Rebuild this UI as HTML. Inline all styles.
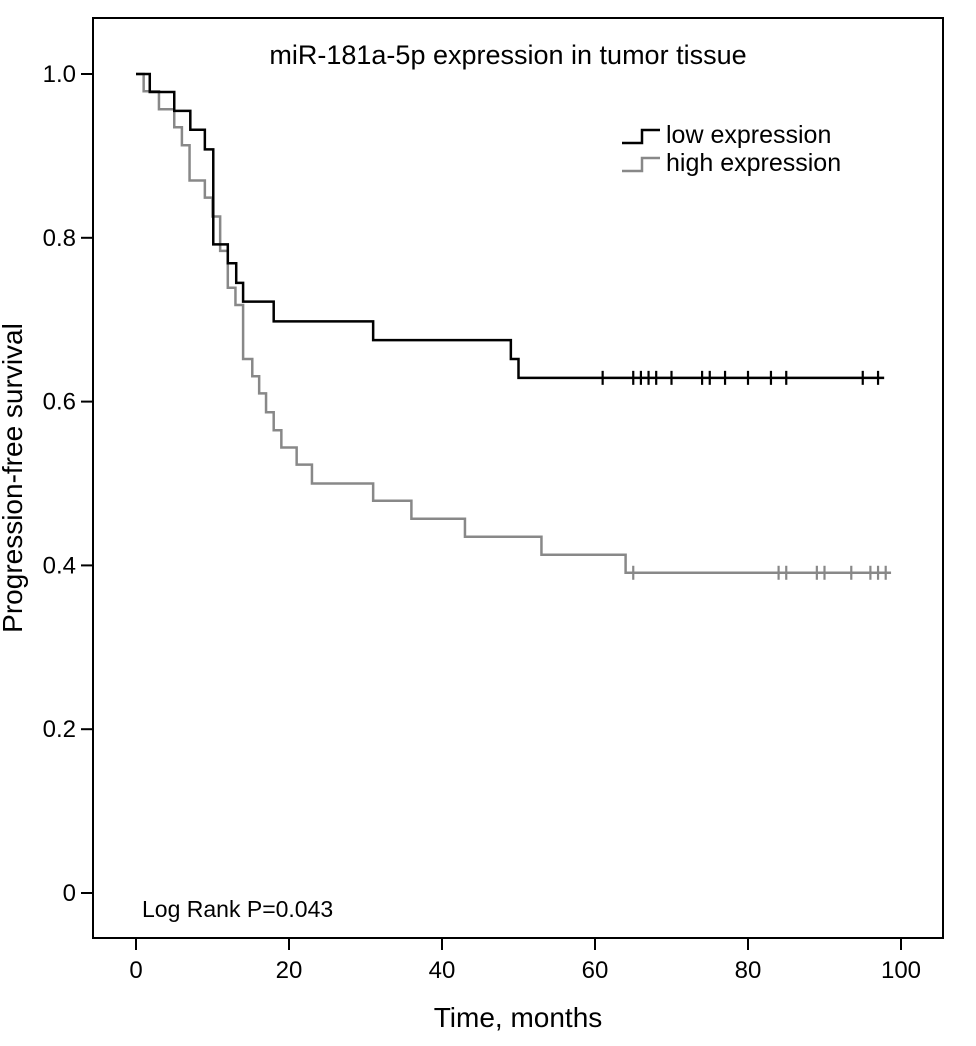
<!DOCTYPE html>
<html><head><meta charset="utf-8"><style>
body{margin:0;background:#fff;}
svg{display:block;font-family:"Liberation Sans",Arial,sans-serif;}
</style></head><body>
<svg id="chart" width="976" height="1046" viewBox="0 0 976 1046">
<rect x="93" y="18" width="850" height="920" fill="none" stroke="#000" stroke-width="2"/>
<text x="508" y="64" font-size="27" text-anchor="middle">miR-181a-5p expression in tumor tissue</text>
<text x="518" y="1027" font-size="28" text-anchor="middle">Time, months</text>
<text transform="translate(22,478) rotate(-90)" font-size="28" text-anchor="middle">Progression-free survival</text>
<text x="142" y="917" font-size="23">Log Rank P=0.043</text>
<g>
<path d="M622,143 H642 V130 H660" fill="none" stroke="#000" stroke-width="2.5"/>
<text x="666" y="143" font-size="25">low expression</text>
<path d="M622,171 H642 V158 H660" fill="none" stroke="#888" stroke-width="2.5"/>
<text x="666" y="171" font-size="25">high expression</text>
</g>
<g id="axes"></g>
<g id="series"></g>
</svg>
<script>
const xTicks=[0,20,40,60,80,100];
const yTicks=[0,0.2,0.4,0.6,0.8,1.0];
const yTickLabels=["0","0.2","0.4","0.6","0.8","1.0"];
const lowTimes=[1.8,5,7.1,9,10.1,12,13.1,14,18,31,49,50];
const lowSurv=[0.978,0.955,0.932,0.908,0.792,0.769,0.745,0.722,0.698,0.675,0.652,0.629];
const lowCensor=[61,65,66,67,68,70,74,75,77,80,83,85,95,97];
const lowEnd=97.8;
const highTimes=[1,3,5,6,7,9,10,11,12,13,14,15.2,16.1,17,18,19,21,23,31,36,43,53,64];
const highSurv=[0.979,0.957,0.935,0.913,0.870,0.849,0.826,0.784,0.739,0.718,0.652,0.631,0.610,0.587,0.565,0.544,0.523,0.500,0.479,0.457,0.435,0.413,0.391];
const highCensor=[65,84,85,89,90,93.5,96,97,98];
const highEnd=98.7;
const NS="http://www.w3.org/2000/svg";
const X=v=>136+v*7.65, Y=v=>893-v*819;
const axes=document.getElementById('axes'), ser=document.getElementById('series');
function mk(t,a,p){const e=document.createElementNS(NS,t);for(const k in a)e.setAttribute(k,a[k]);p.appendChild(e);return e;}
xTicks.forEach(v=>{
 const l=mk('line',{x1:X(v),x2:X(v),y1:938,y2:950,stroke:'#000','stroke-width':2},axes);
 
 
 const t=mk('text',{x:X(v),y:978,'font-size':24,'text-anchor':'middle'},axes);t.textContent=v;
 
 
});
yTicks.forEach((v,i)=>{
 const l=mk('line',{x1:81,x2:93,y1:Y(v),y2:Y(v),stroke:'#000','stroke-width':2},axes);
 
 
 const t=mk('text',{x:76,y:Y(v)+8,'font-size':24,'text-anchor':'end'},axes);t.textContent=yTickLabels[i];
 
 
});
function curve(times,surv,end,censor,color,name){
 let d='M'+X(0)+','+Y(1);let cur=1;
 times.forEach((t,i)=>{d+=' H'+X(t)+' V'+Y(surv[i]);cur=surv[i];});
 d+=' H'+X(end);
 const p=mk('path',{d:d,fill:'none',stroke:color,'stroke-width':2.5},ser);
 
 
 censor.forEach(c=>{
  const l=mk('line',{x1:X(c),x2:X(c),y1:Y(cur)-7,y2:Y(cur)+7,stroke:color,'stroke-width':2.2},ser);
  
  
 });
}
curve(highTimes,highSurv,highEnd,highCensor,'#888','high-expression');
curve(lowTimes,lowSurv,lowEnd,lowCensor,'#000','low-expression');
</script>
</body></html>
